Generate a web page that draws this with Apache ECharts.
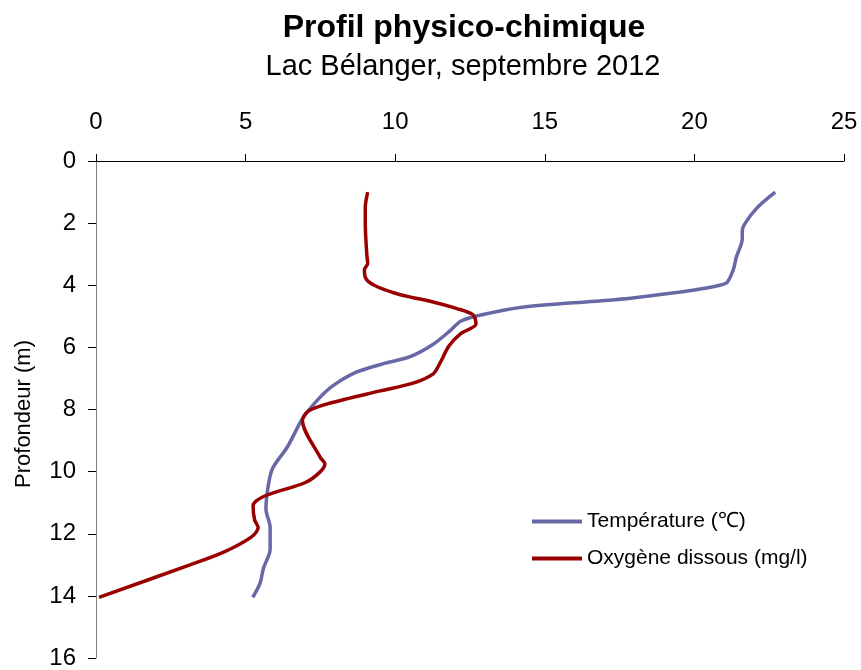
<!DOCTYPE html>
<html>
<head>
<meta charset="utf-8">
<script src="https://cdn.jsdelivr.net/npm/echarts@6/dist/echarts.min.js"></script>
<style>
html, body { margin: 0; padding: 0; background: #fff; }
#chart { width: 861px; height: 670px; }
</style>
</head>
<body>
<div id="chart"></div>
<script>
// profil de température
const tempDepth = [1, 1.5, 2, 2.25, 2.5, 3.1, 3.5, 3.9, 4, 4.15, 4.4, 4.5, 4.7, 4.95, 5.15, 5.45, 5.9, 6.3, 6.5, 6.8, 7.25, 7.7, 8.3, 9.2, 9.9, 10.5, 11.2, 11.8, 12.5, 13.1, 13.6, 14.05];
const tempValues = [22.7, 22.1, 21.7, 21.6, 21.6, 21.4, 21.3, 21.1, 20.85, 20.0, 18.0, 16.9, 14.3, 12.9, 12.2, 11.85, 11.27, 10.5, 9.7, 8.7, 7.9, 7.4, 6.9, 6.4, 5.9, 5.75, 5.68, 5.82, 5.82, 5.6, 5.48, 5.24];

// profil d'oxygène dissous
const oxyDepth = [1, 1.5, 2, 3, 3.3, 3.5, 3.8, 4, 4.25, 4.4, 4.5, 4.75, 4.95, 5.25, 5.55, 5.95, 6.5, 6.85, 7.15, 7.4, 7.8, 8.05, 8.35, 9.55, 9.75, 10.0, 10.35, 10.8, 11.1, 11.55, 11.8, 12.1, 12.6, 13.0, 14.05];
const oxyValues = [9.08, 9.0, 9.0, 9.05, 9.08, 8.97, 9.03, 9.3, 9.97, 10.6, 11.1, 12.06, 12.6, 12.7, 12.2, 11.8, 11.5, 11.27, 10.6, 9.5, 7.8, 7.1, 6.9, 7.5, 7.65, 7.5, 7.0, 5.6, 5.25, 5.3, 5.42, 5.2, 4.25, 3.14, 0.1];

const seriesNames = ['Température (℃)', 'Oxygène dissous (mg/l)'];
const xTicks = [0, 25, 5];   // min, max, interval
const yTicks = [0, 16, 2];

const font = 'Liberation Sans, Arial, sans-serif';

let myChart = echarts.init(document.getElementById('chart'));
myChart.setOption({
  animation: false,
  title: [{
    text: 'Profil physico-chimique',
    left: 464,
    top: 12,
    textAlign: 'center',
    padding: 0,
    textStyle: { fontFamily: font, fontSize: 32, fontWeight: 'bold', color: '#000' }
  }, {
    text: 'Lac Bélanger, septembre 2012',
    left: 463,
    top: 52,
    textAlign: 'center',
    padding: 0,
    textStyle: { fontFamily: font, fontSize: 29, fontWeight: 'normal', color: '#000' }
  }],
  grid: { left: 96, right: 17, top: 161, bottom: 10 },
  legend: {
    orient: 'vertical',
    left: 532,
    top: 511,
    padding: 0,
    icon: 'rect',
    itemWidth: 50,
    itemHeight: 4,
    itemGap: 16,
    textStyle: { fontFamily: font, fontSize: 21, color: '#000' },
    data: seriesNames
  },
  graphic: [{
    type: 'text',
    x: 24,
    y: 414,
    rotation: Math.PI / 2,
    style: {
      text: 'Profondeur (m)',
      fontFamily: font,
      fontSize: 22,
      fill: '#000',
      align: 'center',
      verticalAlign: 'middle'
    }
  }],
  xAxis: {
    type: 'value',
    position: 'top',
    min: xTicks[0],
    max: xTicks[1],
    interval: xTicks[2],
    splitLine: { show: false },
    axisLine: { lineStyle: { color: '#000', width: 1 } },
    axisTick: { inside: false, length: 7, lineStyle: { color: '#000' } },
    axisLabel: { fontFamily: font, fontSize: 24, color: '#000', margin: 27 }
  },
  yAxis: {
    type: 'value',
    inverse: true,
    min: yTicks[0],
    max: yTicks[1],
    interval: yTicks[2],
    splitLine: { show: false },
    axisLine: { show: true, lineStyle: { color: '#808080', width: 1 } },
    axisTick: { show: true, inside: false, length: 8, lineStyle: { color: '#000' } },
    axisLabel: { fontFamily: font, fontSize: 24, color: '#000', margin: 20 }
  },
  series: [{
    name: seriesNames[0],
    type: 'line',
    symbol: 'none',
    smooth: 0.3,
    lineStyle: { color: '#6868A6', width: 3.5 },
    itemStyle: { color: '#6868A6' },
    data: tempValues.map(function (v, i) { return [v, tempDepth[i]]; })
  }, {
    name: seriesNames[1],
    type: 'line',
    symbol: 'none',
    smooth: 0.3,
    lineStyle: { color: '#990000', width: 3.5 },
    itemStyle: { color: '#990000' },
    data: oxyValues.map(function (v, i) { return [v, oxyDepth[i]]; })
  }]
});
</script>
</body>
</html>
